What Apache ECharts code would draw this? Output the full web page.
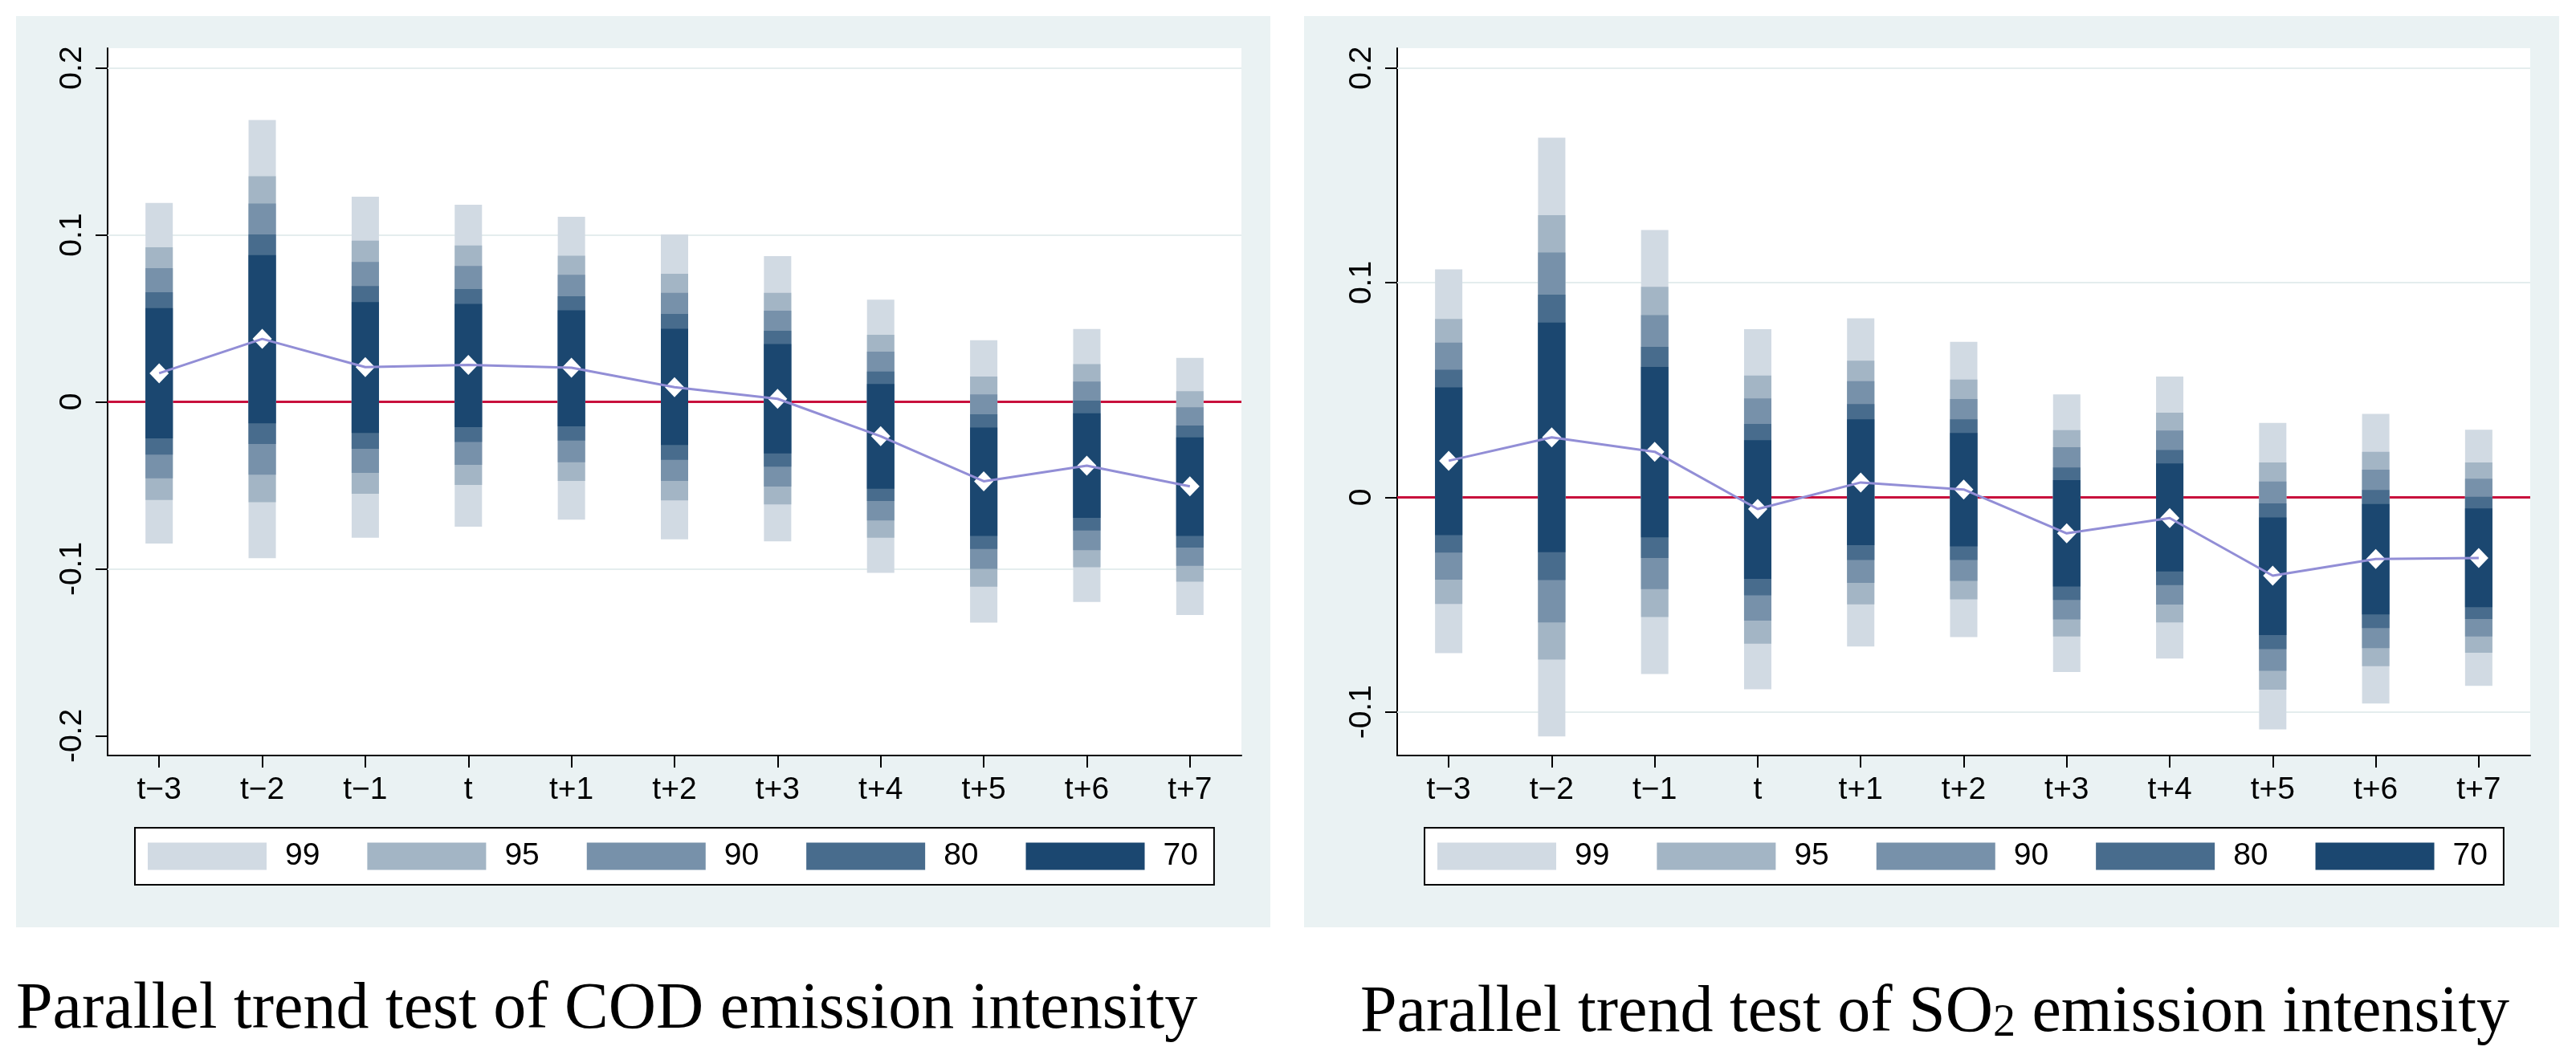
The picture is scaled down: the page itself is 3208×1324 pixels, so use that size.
<!DOCTYPE html>
<html>
<head>
<meta charset="utf-8">
<script src="https://cdn.jsdelivr.net/npm/echarts@6/dist/echarts.min.js"></script>
<style>html,body{margin:0;padding:0;background:#fff}#c{width:3208px;height:1324px}</style>
</head>
<body>
<div id="c"></div>
<script>
// ---------------- DATA ----------------
const categories = ['t\u22123','t\u22122','t\u22121','t','t+1','t+2','t+3','t+4','t+5','t+6','t+7'];
const levels = ['99','95','90','80','70'];

// COD panel
const codEst   = [0.0171, 0.0377, 0.0208, 0.0221, 0.0204, 0.0088, 0.0018, -0.0206, -0.0476, -0.0382, -0.0506];
const cod99Lo  = [-0.0849,-0.0936,-0.0814,-0.0748,-0.0706,-0.0824,-0.0835,-0.1024,-0.1322,-0.1199,-0.1276];
const cod99Hi  = [0.1191, 0.1688, 0.1228, 0.1180, 0.1108, 0.1002, 0.0873, 0.0612, 0.0369, 0.0436, 0.0263];
const cod95Lo  = [-0.0588,-0.0601,-0.0551,-0.0498,-0.0474,-0.0590,-0.0614,-0.0814,-0.1107,-0.0991,-0.1077];
const cod95Hi  = [0.0925, 0.1351, 0.0965, 0.0936, 0.0875, 0.0767, 0.0653, 0.0401, 0.0151, 0.0226, 0.0064];
const cod90Lo  = [-0.0458,-0.0436,-0.0426,-0.0377,-0.0362,-0.0474,-0.0507,-0.0710,-0.1000,-0.0888,-0.0982];
const cod90Hi  = [0.0800, 0.1188, 0.0838, 0.0814, 0.0761, 0.0653, 0.0546, 0.0300, 0.0044, 0.0121, -0.0033];
const cod80Lo  = [-0.0316,-0.0252,-0.0281,-0.0241,-0.0232,-0.0347,-0.0388,-0.0594,-0.0881,-0.0770,-0.0873];
const cod80Hi  = [0.0656, 0.1002, 0.0693, 0.0676, 0.0632, 0.0526, 0.0426, 0.0182, -0.0074, 0.0007, -0.0142];
const cod70Lo  = [-0.0219,-0.0129,-0.0186,-0.0151,-0.0147,-0.0259,-0.0309,-0.0520,-0.0803,-0.0695,-0.0803];
const cod70Hi  = [0.0561, 0.0879, 0.0597, 0.0586, 0.0548, 0.0438, 0.0346, 0.0107, -0.0154, -0.0068, -0.0213];

// SO2 panel
const so2Est   = [0.0170, 0.0279, 0.0212, -0.0055, 0.0069, 0.0036, -0.0168, -0.0097, -0.0365, -0.0288, -0.0283];
const so299Lo  = [-0.0726,-0.1114,-0.0823,-0.0894,-0.0695,-0.0651,-0.0814,-0.0751,-0.1081,-0.0961,-0.0879];
const so299Hi  = [0.1062, 0.1675, 0.1245, 0.0783, 0.0833, 0.0724, 0.0479, 0.0562, 0.0346, 0.0388, 0.0315];
const so295Lo  = [-0.0497,-0.0756,-0.0558,-0.0682,-0.0499,-0.0476,-0.0649,-0.0583,-0.0896,-0.0787,-0.0724];
const so295Hi  = [0.0831, 0.1314, 0.0980, 0.0567, 0.0636, 0.0548, 0.0313, 0.0394, 0.0162, 0.0212, 0.0162];
const so290Lo  = [-0.0384,-0.0583,-0.0428,-0.0575,-0.0399,-0.0390,-0.0569,-0.0500,-0.0808,-0.0703,-0.0649];
const so290Hi  = [0.0720, 0.1140, 0.0848, 0.0460, 0.0541, 0.0458, 0.0233, 0.0311, 0.0073, 0.0128, 0.0086];
const so280Lo  = [-0.0258,-0.0386,-0.0283,-0.0457,-0.0292,-0.0292,-0.0478,-0.0409,-0.0707,-0.0609,-0.0567];
const so280Hi  = [0.0594, 0.0944, 0.0701, 0.0342, 0.0434, 0.0363, 0.0139, 0.0220, -0.0029, 0.0034, 0.0002];
const so270Lo  = [-0.0176,-0.0256,-0.0187,-0.0380,-0.0223,-0.0229,-0.0416,-0.0346,-0.0642,-0.0546,-0.0512];
const so270Hi  = [0.0512, 0.0814, 0.0607, 0.0266, 0.0363, 0.0300, 0.0080, 0.0157, -0.0094, -0.0031, -0.0052];

// axis ticks / ranges
const codYTicks = [-0.2, -0.1, 0, 0.1, 0.2];
const so2YTicks = [-0.1, 0, 0.1, 0.2];
const codGridLines = [0.2, 0.1, -0.1];
const so2GridLines = [0.2, 0.1, -0.1];
const codYRange = [-0.2118, 0.2118];
const so2YRange = [-0.1203, 0.2092];

// ---------------- STYLE ----------------
const levelColors = ['#D1DAE3', '#A3B5C5', '#7791AA', '#486C8D', '#1B4770'];
const panelBg = '#EAF2F3';
const gridLineColor = '#E4EDEE';
const zeroColor = '#C8103C';
const estColor = '#928ED6';
const sans = '"Liberation Sans", Arial, sans-serif';
const serif = '"Liberation Serif", "Times New Roman", serif';

const codBands = {'99':[cod99Lo,cod99Hi],'95':[cod95Lo,cod95Hi],'90':[cod90Lo,cod90Hi],'80':[cod80Lo,cod80Hi],'70':[cod70Lo,cod70Hi]};
const so2Bands = {'99':[so299Lo,so299Hi],'95':[so295Lo,so295Hi],'90':[so290Lo,so290Hi],'80':[so280Lo,so280Hi],'70':[so270Lo,so270Hi]};

const BAR_W = 34;

function bandSeries(gi, bands) {
  return levels.map((lv, k) => {
    const [lo, hi] = bands[lv];
    const col = levelColors[k];
    return {
      type: 'custom', name: lv, xAxisIndex: gi, yAxisIndex: gi, z: 10 + k,
      itemStyle: {color: col},
      encode: {x: 0, y: [1, 2]},
      data: categories.map((c, i) => [i, lo[i], hi[i]]),
      renderItem: function (params, api) {
        const x = api.coord([api.value(0), 0])[0];
        const yHi = api.coord([api.value(0), api.value(2)])[1];
        const yLo = api.coord([api.value(0), api.value(1)])[1];
        return {type: 'rect', shape: {x: x - BAR_W / 2, y: yHi, width: BAR_W, height: yLo - yHi}, style: {fill: col}};
      },
      silent: true
    };
  });
}

function estSeries(gi, est, gridVals) {
  return [
    {
      type: 'scatter', xAxisIndex: gi, yAxisIndex: gi, z: 20,
      symbol: 'diamond', symbolSize: [24, 25],
      itemStyle: {color: '#fff', opacity: 1},
      data: est, silent: true,
      markLine: {
        silent: true, z: 1, symbol: ['none', 'none'], animation: false,
        label: {show: false},
        data: gridVals.map(v => ({yAxis: v, lineStyle: {color: gridLineColor, width: 2, type: 'solid'}}))
          .concat([{yAxis: 0, lineStyle: {color: zeroColor, width: 3, type: 'solid'}}])
      }
    },
    {
      type: 'line', xAxisIndex: gi, yAxisIndex: gi, z: 21,
      data: est, showSymbol: false, symbol: 'none', silent: true,
      lineStyle: {color: estColor, width: 3}
    }
  ];
}

function xAxisCfg(gi) {
  return {
    type: 'category', gridIndex: gi, data: categories, boundaryGap: true,
    axisLine: {show: true, onZero: false, lineStyle: {color: '#000', width: 2}},
    axisTick: {show: true, alignWithLabel: true, length: 15, lineStyle: {color: '#000', width: 2}},
    axisLabel: {show: true, interval: 0, margin: 24, fontSize: 39, fontFamily: sans, color: '#000'},
    splitLine: {show: false}
  };
}

function yAxisCfg(gi, range, ticks) {
  return {
    type: 'value', gridIndex: gi, min: range[0], max: range[1],
    axisLine: {show: true, onZero: false, lineStyle: {color: '#000', width: 2}},
    axisTick: {show: true, length: 15, lineStyle: {color: '#000', width: 2}, customValues: ticks},
    axisLabel: {show: true, rotate: 90, margin: 24, fontSize: 39, fontFamily: sans, color: '#000',
      customValues: ticks, formatter: v => (Math.abs(v) < 1e-9 ? '0' : String(Math.round(v * 10) / 10))},
    splitLine: {show: false}
  };
}

function legendCfg(left) {
  return {
    left: left, top: 1031, orient: 'horizontal',
    data: levels, icon: 'rect', itemWidth: 148, itemHeight: 34, itemGap: 59,
    padding: [16, 20, 16, 16], backgroundColor: '#fff', borderColor: '#000', borderWidth: 2, borderRadius: 0,
    selectedMode: false,
    textStyle: {fontSize: 39, fontFamily: sans, color: '#000', padding: [0, 0, 0, 18]}
  };
}

const chart = echarts.init(document.getElementById('c'), null, {renderer: 'canvas', width: 3208, height: 1324});

chart.setOption({
  animation: false,
  backgroundColor: '#fff',
  grid: [
    {left: 134, top: 60, width: 1412, height: 881, show: true, backgroundColor: '#fff', borderWidth: 0},
    {left: 1740, top: 60, width: 1411, height: 881, show: true, backgroundColor: '#fff', borderWidth: 0}
  ],
  xAxis: [xAxisCfg(0), xAxisCfg(1)],
  yAxis: [yAxisCfg(0, codYRange, codYTicks), yAxisCfg(1, so2YRange, so2YTicks)],
  legend: [legendCfg(168), legendCfg(1774)],
  graphic: [
    {type: 'rect', z: -100, silent: true, shape: {x: 20, y: 20, width: 1562, height: 1135}, style: {fill: panelBg}},
    {type: 'rect', z: -100, silent: true, shape: {x: 1624, y: 20, width: 1563, height: 1135}, style: {fill: panelBg}},
    {type: 'text', x: 20, y: 1258, silent: true,
      style: {text: 'Parallel trend test of COD emission intensity', fontSize: 82, fontFamily: serif, fill: '#000', align: 'left', verticalAlign: 'middle'}},
    {type: 'text', x: 1694, y: 1258, silent: true,
      style: {text: '{n|Parallel trend test of SO}{s|2}{n| emission intensity}', fill: '#000', align: 'left', verticalAlign: 'middle',
        rich: {n: {fontSize: 82, fontFamily: serif, fill: '#000', lineHeight: 90, verticalAlign: 'bottom'},
               s: {fontSize: 56, fontFamily: serif, fill: '#000', lineHeight: 62, verticalAlign: 'bottom'}}}}
  ],
  series: [].concat(
    bandSeries(0, codBands), estSeries(0, codEst, codGridLines),
    bandSeries(1, so2Bands), estSeries(1, so2Est, so2GridLines)
  )
});
</script>
</body>
</html>
